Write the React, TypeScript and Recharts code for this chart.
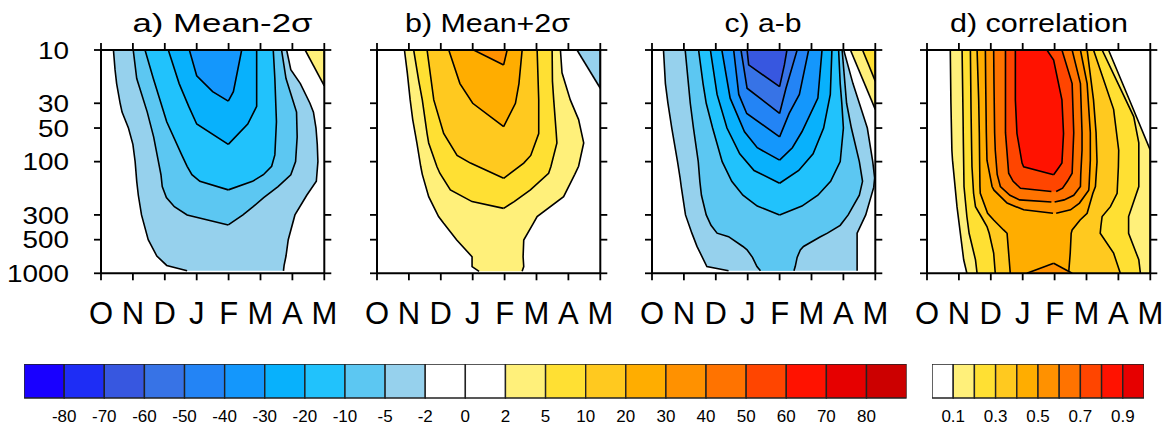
import React from 'react';
import { ComposedChart, Area, XAxis, YAxis, BarChart, Bar } from 'recharts';

// ---------- axes ----------
const monthLabels = ['O', 'N', 'D', 'J', 'F', 'M', 'A', 'M'];
const monthTicks = [0, 1, 2, 3, 4, 5, 6, 7];
const pressureTicks = [10, 30, 50, 100, 300, 500, 1000];

// ---------- colour scales ----------
const diffColors = ['#1900FF', '#1E2DF5', '#3757E0', '#3773E6', '#2384F5', '#1497FC', '#08B1FC', '#21C2FC', '#5CC7F2', '#96D1ED', '#FFFFFF', '#FFFFFF', '#FFF07A', '#FFE033', '#FFC91F', '#FFAD00', '#FF9100', '#FF7300', '#FF4500', '#FF1200', '#E60000', '#CC0000'];
const diffLabels = ['-80', '-70', '-60', '-50', '-40', '-30', '-20', '-10', '-5', '-2', '0', '2', '5', '10', '20', '30', '40', '50', '60', '70', '80'];
const corrColors = ['#FFFFFF', '#FFF07A', '#FFE033', '#FFC91F', '#FFAD00', '#FF9100', '#FF7300', '#FF4500', '#FF1200', '#E60000'];
const corrLabels = ['0.1', '0.3', '0.5', '0.7', '0.9'];
const corrTicks = [1, 3, 5, 7, 9];

// ---------- contour bands: [pressure hPa, left month, right month] ----------
// a) Mean-2sigma
const aLevel2 = [[10, 0.39, 5.82], [15, 0.44, 5.95], [20, 0.49, 6.25], [30, 0.6, 6.55], [36, 0.66, 6.66], [50, 0.86, 6.74], [70, 1.0, 6.78], [100, 1.07, 6.8], [150, 1.12, 6.75], [200, 1.17, 6.45], [300, 1.27, 6.08], [500, 1.48, 5.87], [700, 1.75, 5.8], [850, 2.06, 5.74], [950, 2.7, 5.72]];
const aLevel5 = [[10, 1.01, 5.66], [18, 1.12, 5.8], [36, 1.45, 6.13], [60, 1.65, 6.15], [100, 1.8, 6.1], [131, 1.88, 5.95], [167, 1.92, 5.55], [210, 2.05, 5.1], [253, 2.3, 4.77], [300, 2.7, 4.45], [369, 3.99, 3.99]];
const aLevel10 = [[10, 1.38, 5.4], [18, 1.64, 5.45], [44, 2.06, 5.5], [87, 2.53, 5.45], [110, 2.7, 5.35], [131, 2.85, 5.09], [150, 3.1, 4.75], [179, 3.99, 3.99]];
const aLevel20 = [[10, 2.11, 4.88], [20, 2.45, 4.88], [32, 2.75, 4.88], [46, 3.0, 4.6], [70, 3.99, 3.99]];
const aLevel30 = [[10, 2.77, 4.41], [17, 3.0, 4.25], [23.6, 3.5, 4.15], [28.7, 3.99, 3.99]];
const aPos2 = [[10, 6.4, 7], [21, 7, 7]];

// b) Mean+2sigma
const bLevel2 = [[10, 0.86, 5.75], [16, 0.95, 5.8], [28, 1.04, 6.06], [42, 1.12, 6.32], [68, 1.25, 6.48], [110, 1.37, 6.32], [130, 1.42, 6.2], [206, 1.62, 5.85], [310, 1.93, 5.02], [357, 2.09, 4.9], [504, 2.5, 4.6], [711, 2.98, 4.58], [870, 2.98, 4.6], [960, 3.2, 4.55]];
const bLevel5 = [[10, 1.15, 5.49], [19, 1.31, 5.5], [28, 1.42, 5.54], [56, 1.57, 5.62], [68, 1.62, 5.64], [111, 1.88, 5.45], [127, 1.97, 5.38], [179, 2.3, 4.81], [228, 2.98, 4.3], [262, 3.97, 3.97]];
const bLevel10 = [[10, 1.57, 5.02], [28, 1.78, 5.07], [56, 2.09, 5.07], [88, 2.51, 4.82], [103, 2.93, 4.6], [141, 3.97, 3.97]];
const bLevel20 = [[10, 2.25, 4.55], [20, 2.6, 4.45], [30, 3.0, 4.34], [48.5, 3.97, 3.97]];
const bLevel30 = [[10, 3.03, 4.08], [13.6, 3.97, 3.97]];
const bNeg2 = [[10, 6.27, 7], [22, 7, 7]];

// c) a-b
const cLevel2 = [[10, 0.36, 6.01], [20, 0.42, 6.3], [30, 0.5, 6.5], [50, 0.62, 6.75], [100, 0.8, 6.92], [140, 0.88, 6.98], [170, 0.92, 6.95], [300, 1.05, 6.7], [437, 1.25, 6.43], [574, 1.41, 6.43], [870, 1.72, 6.43], [950, 2.4, 6.43]];
const cLevel5 = [[10, 1.04, 5.96], [30, 1.2, 6.1], [50, 1.3, 6.25], [100, 1.45, 6.5], [150, 1.5, 6.6], [200, 1.55, 6.5], [300, 1.7, 6.15], [372, 1.85, 5.9], [437, 2.04, 5.5], [470, 2.4, 5.28], [575, 2.85, 4.75], [617, 2.98, 4.65], [720, 3.15, 4.55], [870, 3.29, 4.49], [950, 3.4, 4.45]];
const cLevel10 = [[10, 1.46, 5.85], [20, 1.6, 5.9], [30, 1.7, 5.95], [50, 1.9, 6.0], [100, 2.2, 5.9], [150, 2.5, 5.6], [200, 2.85, 5.2], [250, 3.3, 4.7], [300, 4.0, 4.0]];
const cLevel20 = [[10, 1.83, 5.64], [25, 2.04, 5.59], [50, 2.35, 5.38], [85, 2.75, 5.05], [120, 3.2, 4.6], [156, 4.0, 4.0]];
const cLevel30 = [[10, 2.19, 5.33], [27, 2.45, 5.2], [54, 2.9, 4.7], [75, 3.3, 4.4], [97, 4.0, 4.0]];
const cLevel40 = [[10, 2.56, 4.91], [25, 2.72, 4.62], [37, 2.97, 4.3], [60, 4.0, 4.0]];
const cLevel50 = [[10, 2.79, 4.55], [22, 2.98, 4.2], [37, 4.0, 4.0]];
const cLevel60 = [[10, 2.98, 4.23], [13.6, 3.03, 4.15], [21.3, 4.0, 4.0]];
const cPos2 = [[10, 6.22, 7], [34, 7, 7]];
const cPos5 = [[10, 6.6, 7], [19, 7, 7]];

// d) correlation
const dLevel1 = [[10, 0.73, 5.69], [30, 0.75, 6.39], [79, 0.78, 7.0], [97, 0.8, 7.0], [253, 0.94, 7.0], [757, 1.15, 7.0], [1000, 1.25, 7.0]];
const dLevel2 = [[10, 1.1, 5.49], [39.5, 1.13, 6.48], [68, 1.14, 6.64], [167, 1.16, 6.64], [310, 1.25, 6.32], [438, 1.32, 6.32], [757, 1.52, 6.64], [1000, 1.57, 6.69]];
const dLevel3 = [[10, 1.36, 5.22], [34, 1.38, 5.85], [79, 1.4, 6.01], [111, 1.41, 6.0], [192, 1.46, 5.96], [253, 1.52, 5.75], [310, 1.7, 5.49], [381, 1.88, 5.45], [438, 1.95, 5.43], [660, 2.09, 5.85], [1000, 2.14, 6.06]];
const dLevel4 = [[10, 1.57, 5.02], [28, 1.62, 5.22], [55, 1.64, 5.3], [100, 1.65, 5.33], [167, 1.66, 5.28], [192, 1.67, 5.2], [290, 1.9, 5.02], [333, 2.09, 4.8], [409, 2.4, 4.55], [438, 2.51, 4.52], [660, 2.56, 4.49], [1000, 2.61, 4.44]];
const dLevel5 = [[10, 1.83, 4.81], [20, 1.84, 5.02], [55, 1.86, 5.12], [97, 1.88, 5.12], [167, 2.04, 5.08], [180, 2.1, 5.07], [235, 2.51, 4.78], [270, 3.03, 4.5], [290, 3.95, 4.05]];
const dLevel5b = [[813, 3.97, 3.97], [1000, 3.13, 4.55]];
const dLevel6 = [[10, 2.09, 4.55], [20, 2.1, 4.81], [55, 2.12, 4.86], [79, 2.14, 4.86], [130, 2.2, 4.82], [167, 2.3, 4.81], [200, 2.6, 4.6], [220, 2.9, 4.3], [230, 3.9, 4.0]];
const dLevel7 = [[10, 2.46, 4.23], [20, 2.46, 4.55], [55, 2.46, 4.6], [127, 2.56, 4.55], [150, 2.7, 4.4], [173, 2.93, 4.25], [185, 3.9, 4.05]];
const dLevel8 = [[10, 2.77, 3.76], [12.3, 2.77, 3.97], [28, 2.77, 4.23], [56, 2.82, 4.28], [103, 2.98, 4.23], [111, 3.03, 4.15], [131, 3.97, 3.97]];

// ---------- panel tables ----------
const panelA = [
  { rows: aLevel2, fill: diffColors[9] },
  { rows: aLevel5, fill: diffColors[8] },
  { rows: aLevel10, fill: diffColors[7] },
  { rows: aLevel20, fill: diffColors[6] },
  { rows: aLevel30, fill: diffColors[5] },
  { rows: aPos2, fill: diffColors[12] },
];
const panelB = [
  { rows: bLevel2, fill: diffColors[12] },
  { rows: bLevel5, fill: diffColors[13] },
  { rows: bLevel10, fill: diffColors[14] },
  { rows: bLevel20, fill: diffColors[15] },
  { rows: bLevel30, fill: diffColors[16] },
  { rows: bNeg2, fill: diffColors[9] },
];
const panelC = [
  { rows: cLevel2, fill: diffColors[9] },
  { rows: cLevel5, fill: diffColors[8] },
  { rows: cLevel10, fill: diffColors[7] },
  { rows: cLevel20, fill: diffColors[6] },
  { rows: cLevel30, fill: diffColors[5] },
  { rows: cLevel40, fill: diffColors[4] },
  { rows: cLevel50, fill: diffColors[3] },
  { rows: cLevel60, fill: diffColors[2] },
  { rows: cPos2, fill: diffColors[12] },
  { rows: cPos5, fill: diffColors[13] },
];
const panelD = [
  { rows: dLevel1, fill: corrColors[1] },
  { rows: dLevel2, fill: corrColors[2] },
  { rows: dLevel3, fill: corrColors[3] },
  { rows: dLevel4, fill: corrColors[4] },
  { rows: dLevel5, fill: corrColors[5] },
  { rows: dLevel5b, fill: corrColors[5] },
  { rows: dLevel6, fill: corrColors[6] },
  { rows: dLevel7, fill: corrColors[7] },
  { rows: dLevel8, fill: corrColors[8] },
];

const titles = [
  { text: 'a) Mean-2σ', cx: 222.5, w: 180 },
  { text: 'b) Mean+2σ', cx: 487.5, w: 165 },
  { text: 'c) a-b', cx: 763, w: 77 },
  { text: 'd) correlation', cx: 1039, w: 178 },
];

const FONT = '"Liberation Sans", Arial, Helvetica, sans-serif';
const PW = 223.3;
const PH = 223.3;
const TOP = 50;
const SIDE = 22;
const TICK = 7;
const TICK_W = 1.8;

const toData = (rows: number[][]) => rows.map(([p, lo, hi]) => ({ p, r: [lo, hi] }));

// tick marks drawn inside custom tick renderers (outward, NCL-style)
const PressureTick = (props: any) => {
  const { x, y, payload } = props; // x = axis - TICK - 25
  const s = String(payload.value);
  return (
    <g>
      <line x1={x + 25} x2={x + 25 + TICK} y1={y} y2={y} stroke="#000" strokeWidth={TICK_W} />
      <text x={x} y={y} dy="0.36em" textAnchor="end" fontSize={24} fill="#000" fontFamily={FONT}
        textLength={s.length * 15.5} lengthAdjust="spacingAndGlyphs">{s}</text>
    </g>
  );
};
const LeftTick = (props: any) => {
  const { x, y } = props; // x = axis - TICK
  return <line x1={x} x2={x + TICK} y1={y} y2={y} stroke="#000" strokeWidth={TICK_W} />;
};
const RightTick = (props: any) => {
  const { x, y } = props; // x = axis + TICK
  return <line x1={x - TICK} x2={x} y1={y} y2={y} stroke="#000" strokeWidth={TICK_W} />;
};
const TopTick = (props: any) => {
  const { x, y } = props; // y = axis - TICK
  return <line x1={x} x2={x} y1={y} y2={y + TICK} stroke="#000" strokeWidth={TICK_W} />;
};
const MonthTick = (props: any) => {
  const { x, y, payload } = props; // y = axis + TICK + 22
  return (
    <g>
      <line x1={x} x2={x} y1={y - 22 - TICK} y2={y - 22} stroke="#000" strokeWidth={TICK_W} />
      <text x={x} y={y} dy="0.71em" textAnchor="middle" fontSize={31} fill="#000" fontFamily={FONT}>
        {monthLabels[payload.value]}
      </text>
    </g>
  );
};

const axisLineStyle = { stroke: '#000', strokeWidth: 2 };

function Panel({ plotLeft, layers, showY }: { plotLeft: number; layers: { rows: number[][]; fill: string }[]; showY: boolean }) {
  // axes need a non-zero size to be drawn: thin 1px axes on the unlabeled sides
  const yW = showY ? plotLeft : 1;
  const mL = showY ? 0 : SIDE - 1;
  const width = mL + yW + PW + 1 + (SIDE - 1);
  const height = TOP + PH + 60;
  return (
    <div style={{ position: 'absolute', left: plotLeft - yW - mL, top: 0 }}>
      <ComposedChart layout="vertical" width={width} height={height}
        margin={{ top: TOP - 1, right: SIDE - 1, bottom: 0, left: mL }}>
        {layers.map((l, i) => (
          <Area key={i} data={toData(l.rows)} dataKey="r" type="linear" fill={l.fill} fillOpacity={1}
            stroke="#000" strokeWidth={1.6} dot={false} activeDot={false} isAnimationActive={false} />
        ))}
        <XAxis type="number" domain={[0, 7]} ticks={monthTicks} allowDataOverflow height={60} interval={0}
          tick={<MonthTick />} tickMargin={22} tickSize={TICK} axisLine={axisLineStyle} tickLine={false} />
        <XAxis xAxisId="top" orientation="top" type="number" domain={[0, 7]} ticks={monthTicks} allowDataOverflow interval={0}
          height={1} tick={<TopTick />} tickMargin={0} tickSize={TICK} axisLine={axisLineStyle} tickLine={false} />
        <YAxis type="number" dataKey="p" scale="log" domain={[10, 1000]} allowDataOverflow
          ticks={pressureTicks} interval={0} width={yW} tick={showY ? <PressureTick /> : <LeftTick />}
          tickMargin={showY ? 25 : 0} tickSize={TICK} axisLine={axisLineStyle} tickLine={false} />
        <YAxis yAxisId="right" orientation="right" type="number" dataKey="p" scale="log" domain={[10, 1000]} allowDataOverflow
          ticks={pressureTicks} interval={0} width={1} tick={<RightTick />} tickMargin={0} tickSize={TICK}
          axisLine={axisLineStyle} tickLine={false} />
      </ComposedChart>
    </div>
  );
}

function ColorBar({ left, plotWidth, colors, ticks, labels }: { left: number; plotWidth: number; colors: string[]; ticks: number[]; labels: string[] }) {
  const row: Record<string, any> = { name: 'bar' };
  colors.forEach((_, i) => { row['s' + i] = 1; });
  const data = [row];
  return (
    <div style={{ position: 'absolute', left: left - 20, top: 364 }}>
      <BarChart layout="vertical" width={plotWidth + 40} height={33.7 + 30} data={data}
        margin={{ top: 0, right: 20, bottom: 0, left: 20 }} barCategoryGap={0} barGap={0}>
        <XAxis type="number" domain={[0, colors.length]} ticks={ticks} interval={0} allowDataOverflow height={30}
          tickFormatter={(v: number) => labels[ticks.indexOf(v)]} axisLine={false} tickLine={false}
          tickSize={6} tickMargin={6} tick={{ fontSize: 17, fill: '#000', fontFamily: FONT }} />
        <YAxis type="category" dataKey="name" hide width={0} />
        {colors.map((c, i) => (
          <Bar key={i} dataKey={'s' + i} stackId="cb" fill={c} stroke="#222" strokeWidth={1.4} isAnimationActive={false} />
        ))}
      </BarChart>
    </div>
  );
}

export default function App() {
  const diffTicks = diffLabels.map((_, i) => i + 1);
  return (
    <div style={{ position: 'absolute', left: 0, top: 0, width: 1171, height: 430, background: '#fff', fontFamily: FONT }}>
      <svg width={1171} height={45} style={{ position: 'absolute', left: 0, top: 0 }}>
        {titles.map((t, i) => (
          <text key={i} x={t.cx} y={31.7} textAnchor="middle" fontSize={25} fill="#000" fontFamily={FONT}
            textLength={t.w} lengthAdjust="spacingAndGlyphs">{t.text}</text>
        ))}
      </svg>
      <Panel plotLeft={101} layers={panelA} showY />
      <Panel plotLeft={376.7} layers={panelB} showY={false} />
      <Panel plotLeft={651.7} layers={panelC} showY={false} />
      <Panel plotLeft={926.7} layers={panelD} showY={false} />
      <ColorBar left={24} plotWidth={882.7} colors={diffColors} ticks={diffTicks} labels={diffLabels} />
      <ColorBar left={932.3} plotWidth={212} colors={corrColors} ticks={corrTicks} labels={corrLabels} />
    </div>
  );
}
